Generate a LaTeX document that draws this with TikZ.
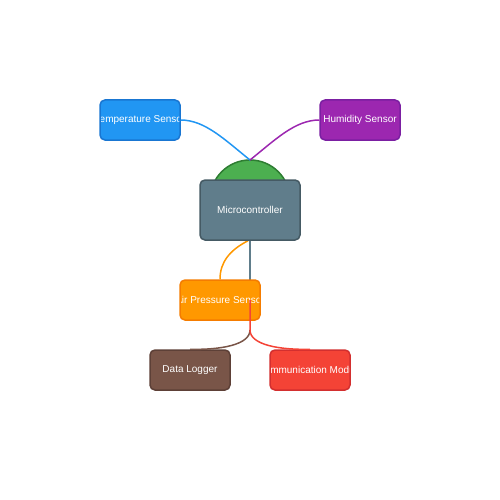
\documentclass[tikz,border=0pt]{standalone}
\usepackage{fontspec}
\setmainfont{Liberation Sans}
\usetikzlibrary{backgrounds}
\definecolor{cblue}{HTML}{2196F3}\definecolor{sblue}{HTML}{1976D2}
\definecolor{cpurple}{HTML}{9C27B0}\definecolor{spurple}{HTML}{7B1FA2}
\definecolor{cslate}{HTML}{607D8B}\definecolor{sslate}{HTML}{455A64}
\definecolor{cgreen}{HTML}{4CAF50}\definecolor{sgreen}{HTML}{2E7D32}
\definecolor{corange}{HTML}{FF9800}\definecolor{sorange}{HTML}{F57C00}
\definecolor{cbrown}{HTML}{795548}\definecolor{sbrown}{HTML}{5D4037}
\definecolor{cred}{HTML}{F44336}\definecolor{sred}{HTML}{D32F2F}
\tikzset{
  box/.style={rounded corners=5pt, minimum width=80pt, minimum height=40pt,
    line width=1.5pt, inner sep=0pt, fill=#1},
  lbl/.style={path picture={\node[text=white, font=\fontsize{10pt}{12pt}\selectfont, inner sep=0pt]
    at (path picture bounding box.center) {#1};}},
  wire/.style={line width=1.5pt, draw=#1}
}
\begin{document}
\begin{tikzpicture}[x=1pt,y=-1pt]
\useasboundingbox (0,0) rectangle (500,500);
% green dome
\draw[fill=cgreen, draw=sgreen, line width=1.5pt] (210,200) arc[start angle=180, end angle=360, radius=40] -- cycle;
\coordinate (dome) at (250,160);
% sensors
\node[box=cblue, draw=sblue, lbl={Temperature Sensor}] (temp) at (140,120) {};
\node[box=cpurple, draw=spurple, lbl={Humidity Sensor}] (hum) at (360,120) {};
\draw[wire=cblue] (temp.east) .. controls (205,120) and (225,140) .. (dome);
\draw[wire=cpurple] (hum.west) .. controls (295,120) and (275,140) .. (dome);
% microcontroller
\node[box=cslate, draw=sslate, minimum width=100pt, minimum height=60pt, lbl={Microcontroller}] (mc) at (250,210) {};
% air pressure
\node[box=corange, draw=sorange, lbl={Air Pressure Sensor}] (ap) at (220,300) {};
\coordinate (tap) at (250,300);
\coordinate (split) at (250,330);
\begin{scope}[on background layer]
\draw[wire=cslate] (mc.south) -- (tap);
\draw[wire=corange] ([xshift=-2pt]mc.south) .. controls (230,250) and (220,262) .. (ap.north);
\end{scope}
% outputs
\node[box=cbrown, draw=sbrown, lbl={Data Logger}] (dl) at (190,370) {};
\node[box=cred, draw=sred, lbl={Communication Module}] (cm) at (310,370) {};
\draw[wire=cbrown] (split) .. controls (250,345) and (220,350) .. (dl.north);
\draw[wire=cred] (tap) -- (split) .. controls (250,345) and (280,350) .. (cm.north);
\end{tikzpicture}
\end{document}
